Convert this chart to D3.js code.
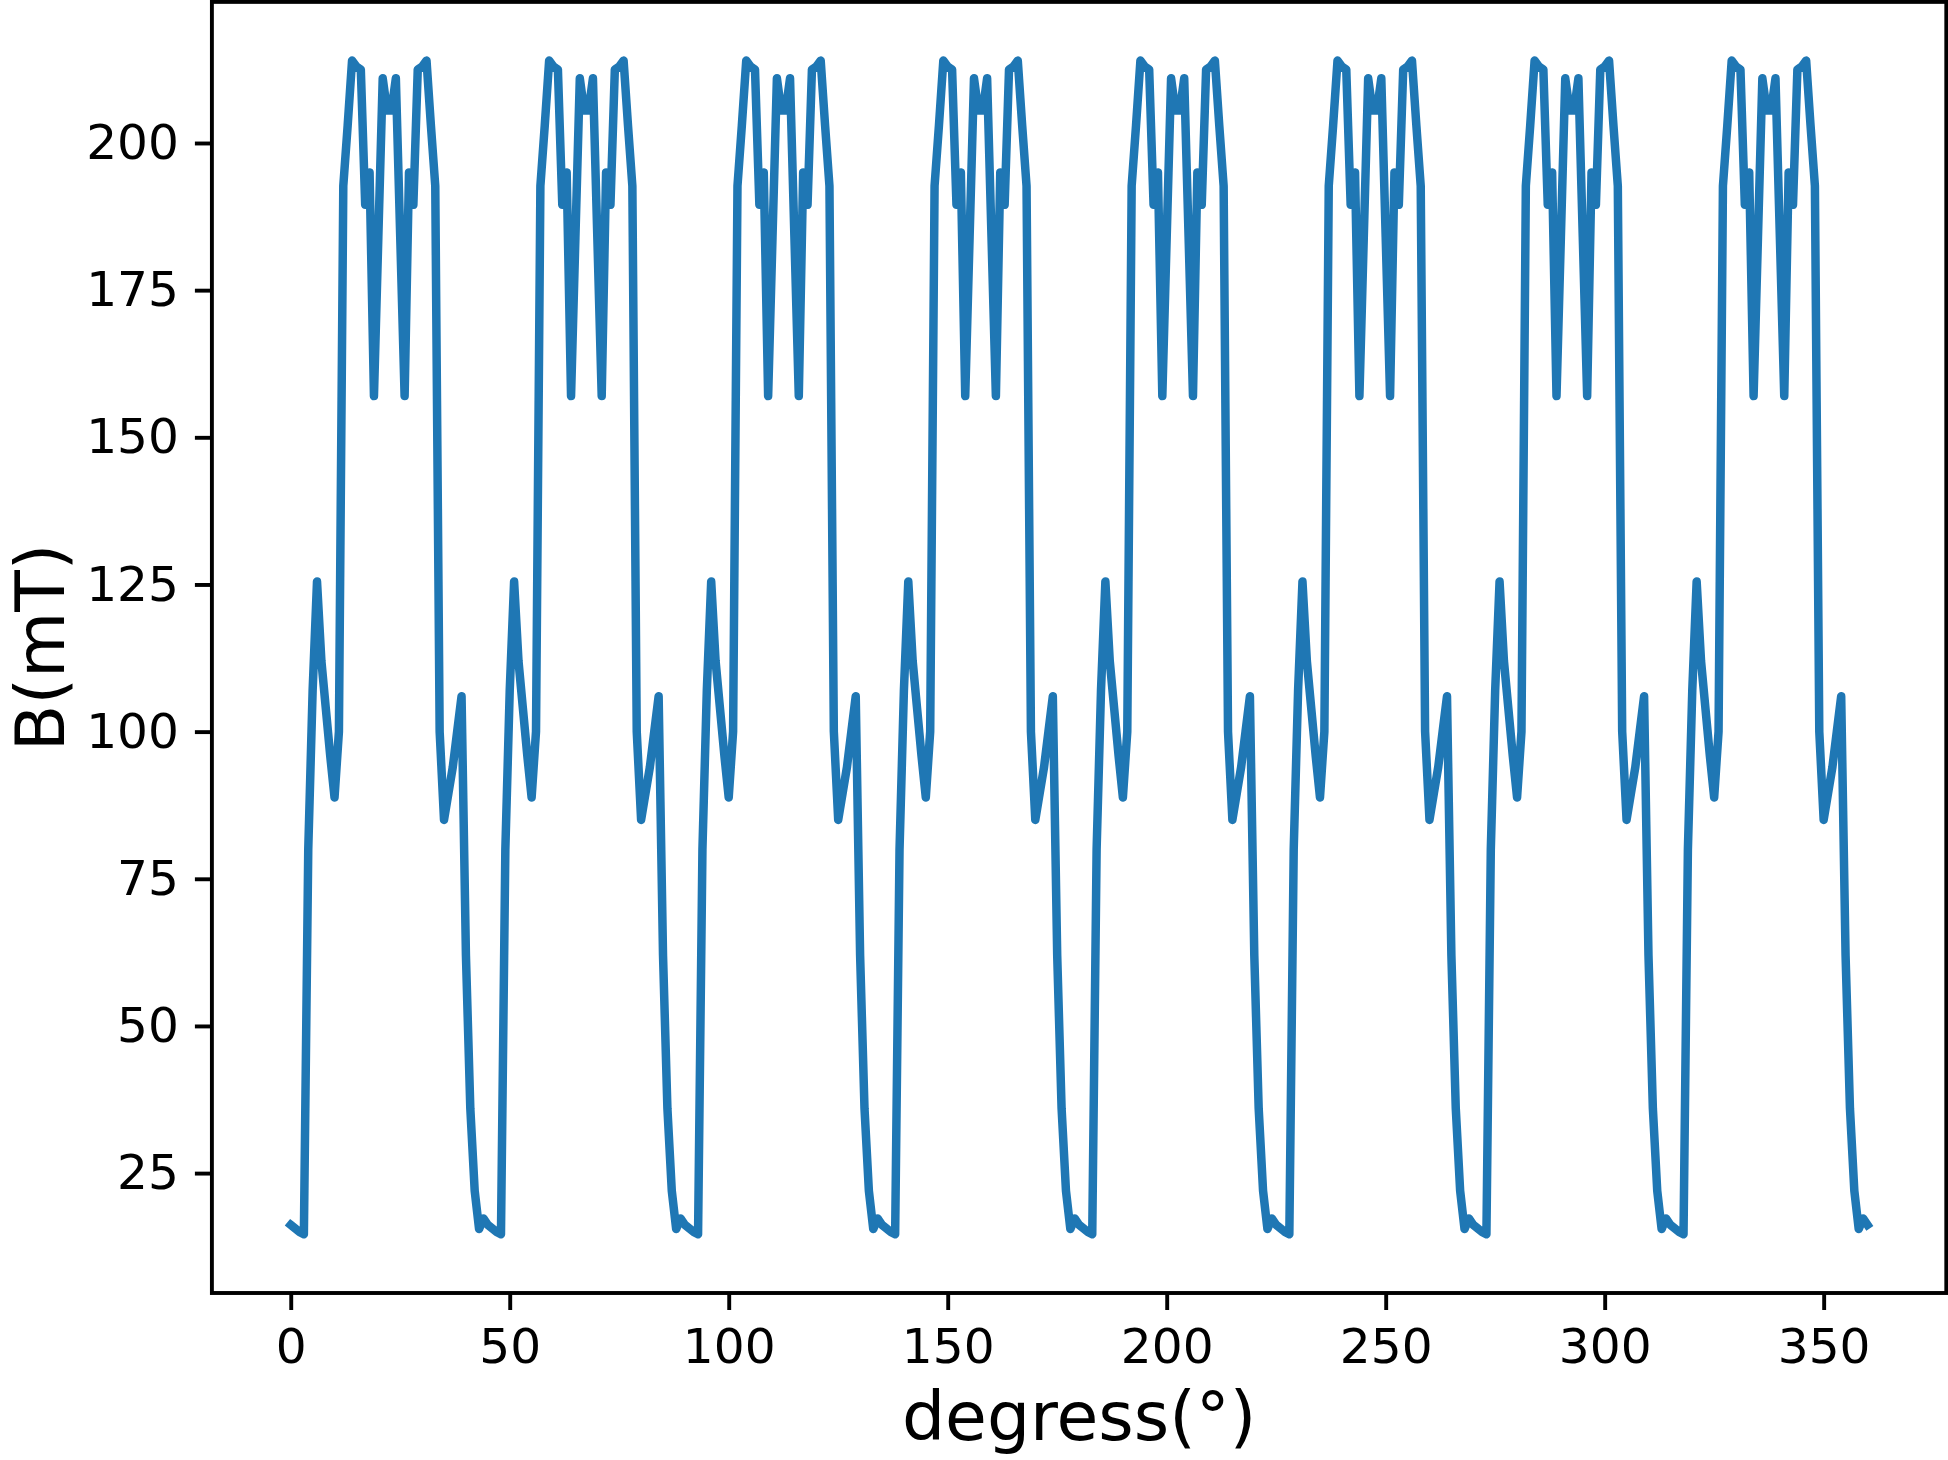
<!DOCTYPE html>
<html>
<head>
<meta charset="utf-8">
<script src="https://cdn.jsdelivr.net/npm/d3@7"></script>
<style>
  body { margin: 0; background: #fff; }
  svg  { display: block; }
  text { font-family: "DejaVu Sans", sans-serif; fill: #000; }
</style>
</head>
<body>
<svg id="chart" width="1948" height="1460"></svg>
<script>
/* Daten */
const degrees = d3.range(0, 361, 1);

// B(mT), one value per degree (8 identical periods of 45°)
const fieldB = [
  16.2,15.6,15.0,14.6,80,107,125.5,112,104,96,88.8,100,192.7,203,214,213,212.5,189.5,195,157,184,211,205.5,205.5,211,184,157,195,189.5,212.5,213,214,203,192.7,100,85,89.5,94,100,106,62,36,22,15.5,17.3,
  16.2,15.6,15.0,14.6,80,107,125.5,112,104,96,88.8,100,192.7,203,214,213,212.5,189.5,195,157,184,211,205.5,205.5,211,184,157,195,189.5,212.5,213,214,203,192.7,100,85,89.5,94,100,106,62,36,22,15.5,17.3,
  16.2,15.6,15.0,14.6,80,107,125.5,112,104,96,88.8,100,192.7,203,214,213,212.5,189.5,195,157,184,211,205.5,205.5,211,184,157,195,189.5,212.5,213,214,203,192.7,100,85,89.5,94,100,106,62,36,22,15.5,17.3,
  16.2,15.6,15.0,14.6,80,107,125.5,112,104,96,88.8,100,192.7,203,214,213,212.5,189.5,195,157,184,211,205.5,205.5,211,184,157,195,189.5,212.5,213,214,203,192.7,100,85,89.5,94,100,106,62,36,22,15.5,17.3,
  16.2,15.6,15.0,14.6,80,107,125.5,112,104,96,88.8,100,192.7,203,214,213,212.5,189.5,195,157,184,211,205.5,205.5,211,184,157,195,189.5,212.5,213,214,203,192.7,100,85,89.5,94,100,106,62,36,22,15.5,17.3,
  16.2,15.6,15.0,14.6,80,107,125.5,112,104,96,88.8,100,192.7,203,214,213,212.5,189.5,195,157,184,211,205.5,205.5,211,184,157,195,189.5,212.5,213,214,203,192.7,100,85,89.5,94,100,106,62,36,22,15.5,17.3,
  16.2,15.6,15.0,14.6,80,107,125.5,112,104,96,88.8,100,192.7,203,214,213,212.5,189.5,195,157,184,211,205.5,205.5,211,184,157,195,189.5,212.5,213,214,203,192.7,100,85,89.5,94,100,106,62,36,22,15.5,17.3,
  16.2,15.6,15.0,14.6,80,107,125.5,112,104,96,88.8,100,192.7,203,214,213,212.5,189.5,195,157,184,211,205.5,205.5,211,184,157,195,189.5,212.5,213,214,203,192.7,100,85,89.5,94,100,106,62,36,22,15.5,17.3,
  16.2
];

const xTicks = [0, 50, 100, 150, 200, 250, 300, 350];
const yTicks = [25, 50, 75, 100, 125, 150, 175, 200];

const xLabel = "degress(°)";
const yLabel = "B(mT)";

/* Optionen */
const box        = { left: 211.9, right: 1946.3, top: 1.9, bottom: 1293 };
const lineColor  = "#1f77b4";
const lineWidth  = 8.5;
const spineWidth = 3.9;
const tickLen    = 17;
const tickFont   = 48.6;
const labelFont  = 68;

const svg = d3.select("#chart");

// matplotlib-like 5% margins around the data
function padded(extent) {
  const span = extent[1] - extent[0];
  return [extent[0] - span * 0.05, extent[1] + span * 0.05];
}

const x = d3.scaleLinear()
  .domain(padded(d3.extent(degrees)))
  .range([box.left, box.right]);

const y = d3.scaleLinear()
  .domain(padded(d3.extent(fieldB)))
  .range([box.bottom, box.top]);

const points = degrees.map((d, i) => [d, fieldB[i]]);

// curve
svg.append("path")
  .datum(points)
  .attr("fill", "none")
  .attr("stroke", lineColor)
  .attr("stroke-width", lineWidth)
  .attr("stroke-linejoin", "round")
  .attr("stroke-linecap", "square")
  .attr("d", d3.line().x(d => x(d[0])).y(d => y(d[1])));

// axes
const xAxis = svg.append("g")
  .attr("transform", "translate(0," + box.bottom + ")")
  .call(d3.axisBottom(x).tickValues(xTicks).tickSizeOuter(0).tickSize(tickLen).tickPadding(18));

const yAxis = svg.append("g")
  .attr("transform", "translate(" + box.left + ",0)")
  .call(d3.axisLeft(y).tickValues(yTicks).tickSizeOuter(0).tickSize(tickLen).tickPadding(16));

[xAxis, yAxis].forEach(g => {
  g.select(".domain").remove();
  g.selectAll(".tick line").attr("stroke", "#000").attr("stroke-width", spineWidth);
  g.selectAll(".tick text")
    .attr("fill", "#000")
    .style("font-size", tickFont + "px")
    .style("font-family", "'DejaVu Sans', sans-serif");
});

// spines
svg.append("rect")
  .attr("x", box.left)
  .attr("y", box.top)
  .attr("width", box.right - box.left)
  .attr("height", box.bottom - box.top)
  .attr("fill", "none")
  .attr("stroke", "#000")
  .attr("stroke-width", spineWidth);

// labels
svg.append("text")
  .attr("x", (box.left + box.right) / 2)
  .attr("y", 1440)
  .attr("text-anchor", "middle")
  .style("font-size", labelFont + "px")
  .text(xLabel);

svg.append("text")
  .attr("transform", "translate(64," + (box.top + box.bottom) / 2 + ") rotate(-90)")
  .attr("text-anchor", "middle")
  .style("font-size", labelFont + "px")
  .text(yLabel);
</script>
</body>
</html>
